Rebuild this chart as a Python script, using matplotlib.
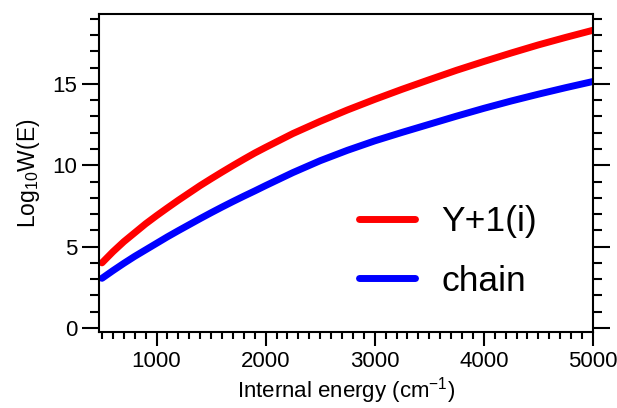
import matplotlib
matplotlib.use("Agg")
import matplotlib.pyplot as plt
from matplotlib.ticker import MultipleLocator

# internal energy (cm-1)
energy = [500, 600, 700, 800, 900, 1000, 1100, 1200, 1300, 1400, 1500, 1600,
          1700, 1800, 1900, 2000, 2250, 2500, 2750, 3000, 3250, 3500, 3750,
          4000, 4250, 4500, 4750, 5000]
# log10 W(E)
y1_i = [4.0, 4.68, 5.3, 5.85, 6.4, 6.9, 7.38, 7.85, 8.3, 8.75, 9.17, 9.58,
        9.98, 10.37, 10.75, 11.1, 11.95, 12.7, 13.4, 14.05, 14.67, 15.26, 15.84,
        16.38, 16.9, 17.4, 17.86, 18.3]
chain = [3.05, 3.52, 3.97, 4.4, 4.8, 5.2, 5.6, 5.98, 6.35, 6.72, 7.08, 7.43,
         7.77, 8.1, 8.42, 8.75, 9.55, 10.28, 10.92, 11.5, 12.02, 12.52, 13.02,
         13.5, 13.95, 14.37, 14.77, 15.15]

plt.rcParams['font.family'] = ['Liberation Sans', 'DejaVu Sans']
plt.rcParams['mathtext.fontset'] = 'custom'
plt.rcParams['mathtext.rm'] = 'Liberation Sans'
plt.rcParams['mathtext.it'] = 'Liberation Sans:italic'
plt.rcParams['mathtext.bf'] = 'Liberation Sans:bold'

fig = plt.figure(figsize=(6.17, 4.08), dpi=100)
ax = fig.add_axes([0.1605, 0.1863, 0.8005, 0.7794])

ax.plot(energy, y1_i, color='#ff0000', lw=5, solid_capstyle='round', label='Y+1(i)')
ax.plot(energy, chain, color='#0000ff', lw=5, solid_capstyle='round', label='chain')

ax.set_xlim(473, 5000)
ax.set_ylim(-0.25, 19.3)
ax.set_xticks([1000, 2000, 3000, 4000, 5000])
ax.xaxis.set_minor_locator(MultipleLocator(100))
ax.set_yticks([0, 5, 10, 15])
ax.yaxis.set_minor_locator(MultipleLocator(1))

ax.tick_params(axis='both', which='both', direction='out', width=1.5, labelsize=16)
ax.tick_params(axis='x', which='major', length=10, pad=4)
ax.tick_params(axis='x', which='minor', length=5)
ax.tick_params(axis='y', which='major', length=12, right=True)
ax.tick_params(axis='y', which='minor', length=6.5, right=True)
for s in ax.spines.values():
    s.set_linewidth(1.5)

ax.set_xlabel('Internal energy (cm$^{\\mathrm{-1}}$)', fontsize=16, labelpad=2)
ax.set_ylabel('Log$_{\\mathrm{10}}$W(E)', fontsize=16.5, labelpad=8)

ax.legend(loc='center left', bbox_to_anchor=(0.526, 0.253), frameon=False,
          fontsize=25.5, handlelength=1.6, handletextpad=0.73, labelspacing=0.74,
          borderaxespad=0, borderpad=0)

fig.savefig('out.png', dpi=100)
